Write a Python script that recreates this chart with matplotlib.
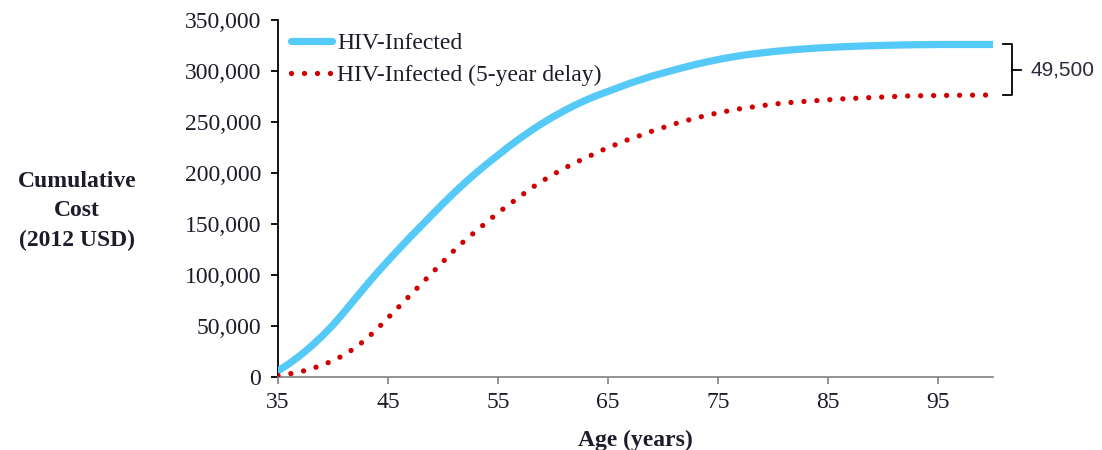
import matplotlib
matplotlib.use("Agg")
import matplotlib.pyplot as plt
from matplotlib.ticker import FuncFormatter

# Cumulative lifetime cost (2012 USD, thousands) by age
ages = [35, 36, 37, 38, 39, 40, 41, 42, 43, 44, 45, 46, 47, 48, 49, 50,
        51, 52, 53, 54, 55, 56, 57, 58, 59, 60, 61, 62, 63, 64, 65, 66,
        67, 68, 69, 70, 71, 72, 73, 74, 75, 76, 77, 78, 79, 80, 82, 84,
        86, 88, 90, 92, 95, 100]

cost_infected = [6, 13, 21, 30, 40, 51, 63.5, 76.5, 89.5, 102, 114, 125.5, 137, 148, 159, 170,
                 180.5, 190.5, 200, 209, 217.5, 226, 234, 241.5, 248.5, 255, 261, 266.5, 271.5, 276, 280, 284,
                 288, 291.5, 295, 298, 301, 303.8, 306.5, 309, 311.2, 313.2, 315, 316.5, 317.8, 319, 321, 322.5,
                 323.6, 324.5, 325.1, 325.6, 326, 326]

cost_delayed = [1.5, 3, 5, 8, 11.5, 16, 21.5, 28.5, 37, 47, 58, 69, 80, 91, 102, 113,
                124, 134, 143, 152, 161, 169, 177, 185, 192, 198.5, 204.5, 210, 215, 220, 225, 229,
                233.5, 237, 241, 244.5, 248, 251, 254, 256.5, 259, 261, 263, 264.5, 266, 267.5, 269.5, 271,
                272.5, 273.5, 274.5, 275.5, 276, 276.5]

cost_infected = [v * 1000 for v in cost_infected]
cost_delayed = [v * 1000 for v in cost_delayed]

labels = ["HIV-Infected", "HIV-Infected (5-year delay)"]
x_ticks = [35, 45, 55, 65, 75, 85, 95]
y_ticks = [0, 50000, 100000, 150000, 200000, 250000, 300000, 350000]
gap_label = "49,500"

SERIF = "Liberation Serif"
TXT = "#1c1c2a"
FS = 17

fig = plt.figure(figsize=(11.02, 4.5), dpi=100)
ax = fig.add_axes([278 / 1102, 1 - 377 / 450, 715 / 1102, 357 / 450])

ax.plot(ages, cost_infected, color="#55C9F8", lw=5.2, solid_capstyle="round",
        label=labels[0], zorder=3)
ax.plot(ages, cost_delayed, color="#D00000", lw=3.8, dash_capstyle="round",
        linestyle=(0, (0.01, 2.45)), label=labels[1], zorder=3)

ax.set_xlim(35, 100)
ax.set_ylim(0, 350000)
ax.set_xticks(x_ticks)
ax.set_yticks(y_ticks)
ax.yaxis.set_major_formatter(FuncFormatter(lambda v, p: f"{int(v):,}"))

for s in ("top", "right"):
    ax.spines[s].set_visible(False)
ax.spines["left"].set_color("black")
ax.spines["left"].set_linewidth(1.3)
ax.spines["bottom"].set_color("#8a8a8a")
ax.spines["bottom"].set_linewidth(1.3)

ax.tick_params(axis="y", direction="out", length=5, width=1.3, color="black",
               labelsize=FS, labelcolor=TXT, pad=7)
ax.tick_params(axis="x", direction="out", length=5, width=1.3, color="#8a8a8a",
               labelsize=FS, labelcolor=TXT, pad=6)
for lab in ax.get_xticklabels() + ax.get_yticklabels():
    lab.set_fontfamily(SERIF)

leg = ax.legend(loc="upper left", bbox_to_anchor=(0.018, 0.964), frameon=False,
                prop={"family": SERIF, "size": FS}, handlelength=1.75,
                handletextpad=0.2, labelspacing=0.42, borderpad=0, borderaxespad=0)
for t in leg.get_texts():
    t.set_color(TXT)

ax.set_xlabel("Age (years)", fontfamily=SERIF, fontsize=FS, fontweight="bold",
              color=TXT, labelpad=12)
fig.text(77 / 1102, 1 - 211 / 450, "Cumulative\nCost\n(2012 USD)", ha="center",
         va="center", fontfamily=SERIF, fontsize=FS, fontweight="bold",
         color=TXT, linespacing=1.5)

# Brace marking the gap between the two end values
tr = ax.get_yaxis_transform()
top, bot = cost_infected[-1], cost_delayed[-1]
mid = (top + bot) / 2
xv, xh, xt = 1.0265, 1.0145, 1.0395
bk = dict(color="black", lw=1.3, transform=tr, clip_on=False)
ax.plot([xh, xv, xv, xh], [top, top, bot, bot], **bk)
ax.plot([xv, xt], [mid, mid], **bk)
ax.text(1.053, mid, gap_label, transform=tr, ha="left", va="center",
        fontfamily="Liberation Sans", fontsize=15, color="#2a2a3a")

fig.savefig("out.png", dpi=100)
